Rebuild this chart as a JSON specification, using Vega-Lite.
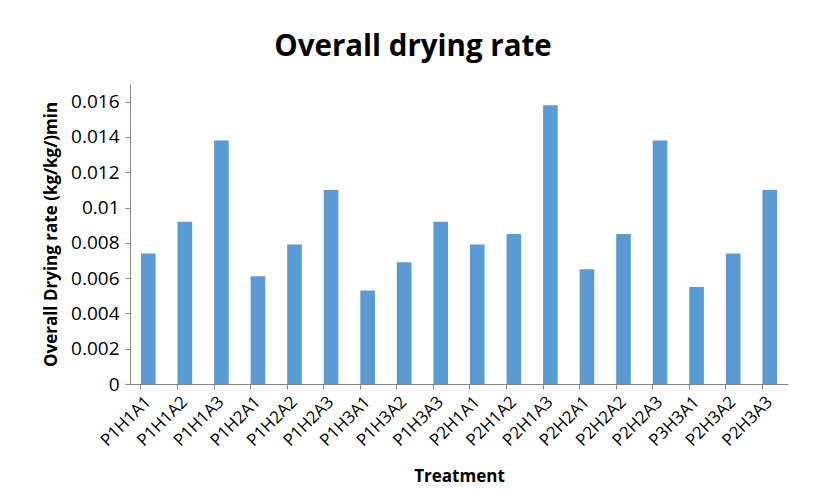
{
  "$schema": "https://vega.github.io/schema/vega-lite/v6.json",
  "width": 658,
  "height": 300,
  "autosize": {"type": "none"},
  "padding": {"left": 130, "top": 84, "right": 25, "bottom": 108},
  "background": "white",
  "title": {
    "text": "Overall drying rate",
    "font": "Open Sans",
    "fontSize": 29.5,
    "fontWeight": "bold",
    "color": "#000000",
    "anchor": "middle",
    "frame": "group",
    "dx": -46,
    "offset": 22
  },
  "data": {
    "values": [
      {"treatment": "P1H1A1", "rate": 0.0074},
      {"treatment": "P1H1A2", "rate": 0.0092},
      {"treatment": "P1H1A3", "rate": 0.0138},
      {"treatment": "P1H2A1", "rate": 0.0061},
      {"treatment": "P1H2A2", "rate": 0.0079},
      {"treatment": "P1H2A3", "rate": 0.011},
      {"treatment": "P1H3A1", "rate": 0.0053},
      {"treatment": "P1H3A2", "rate": 0.0069},
      {"treatment": "P1H3A3", "rate": 0.0092},
      {"treatment": "P2H1A1", "rate": 0.0079},
      {"treatment": "P2H1A2", "rate": 0.0085},
      {"treatment": "P2H1A3", "rate": 0.0158},
      {"treatment": "P2H2A1", "rate": 0.0065},
      {"treatment": "P2H2A2", "rate": 0.0085},
      {"treatment": "P2H2A3", "rate": 0.0138},
      {"treatment": "P3H3A1", "rate": 0.0055},
      {"treatment": "P2H3A2", "rate": 0.0074},
      {"treatment": "P2H3A3", "rate": 0.011}
    ]
  },
  "mark": {"type": "bar", "color": "#5B9BD5"},
  "encoding": {
    "x": {
      "field": "treatment",
      "type": "nominal",
      "sort": null,
      "scale": {"paddingInner": 0.6, "paddingOuter": 0.3},
      "axis": {
        "title": "Treatment",
        "titleFont": "Open Sans",
        "titleFontSize": 17,
        "titleFontWeight": "bold",
        "titleColor": "#000000",
        "titlePadding": 20,
        "labelFont": "Open Sans",
        "labelFontSize": 17,
        "labelColor": "#000000",
        "labelAngle": -45,
        "labelAlign": "right",
        "labelBaseline": "middle",
        "labelPadding": 10,
        "bandPosition": 0,
        "labelOffset": 0,
        "tickSize": 5,
        "tickColor": "#868686",
        "domainColor": "#868686",
        "grid": false
      }
    },
    "y": {
      "field": "rate",
      "type": "quantitative",
      "scale": {"domain": [0, 0.017], "nice": false},
      "axis": {
        "title": "Overall Drying rate (kg/kg/)min",
        "titleFont": "Open Sans",
        "titleFontSize": 17,
        "titleFontWeight": "bold",
        "titleColor": "#000000",
        "titlePadding": 10,
        "labelFont": "Open Sans",
        "labelFontSize": 19,
        "labelColor": "#000000",
        "labelPadding": 6,
        "values": [0, 0.002, 0.004, 0.006, 0.008, 0.01, 0.012, 0.014, 0.016],
        "format": "~g",
        "tickSize": 5,
        "tickColor": "#868686",
        "domainColor": "#868686",
        "grid": false
      }
    }
  },
  "config": {"view": {"stroke": null}}
}
